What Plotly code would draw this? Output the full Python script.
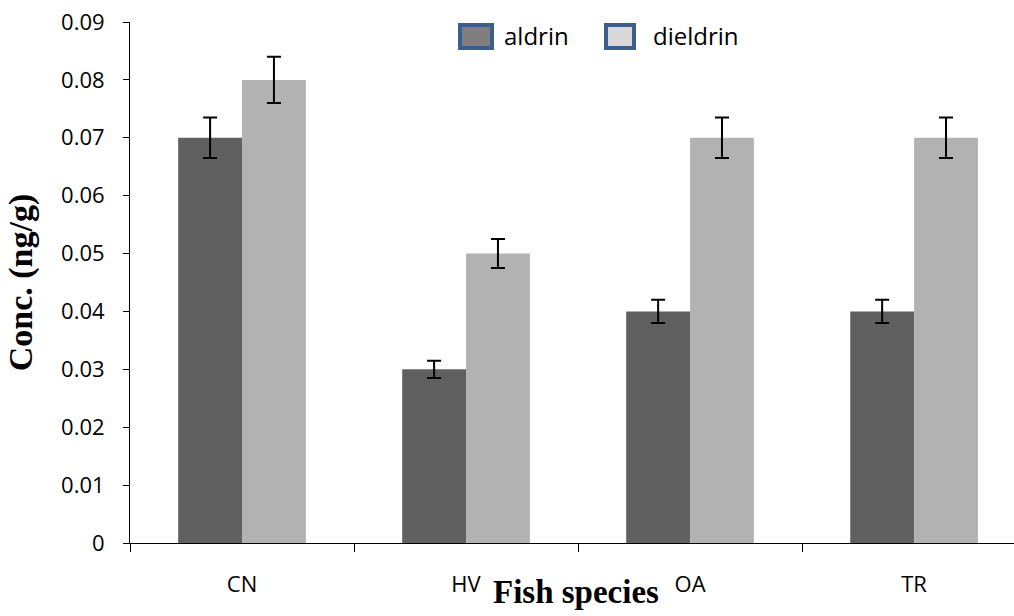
import plotly.graph_objects as go

species = ["CN", "HV", "OA", "TR"]
aldrin = [0.07, 0.03, 0.04, 0.04]
dieldrin = [0.08, 0.05, 0.07, 0.07]
aldrin_err = [0.0035, 0.0015, 0.002, 0.002]
dieldrin_err = [0.004, 0.0025, 0.0035, 0.0035]
series_names = ["aldrin", "dieldrin"]

# plot-area geometry (pixels) used to place the hand-drawn legend
L, R, T, B = 130, 1014, 22, 543
def px(x):
    return (x - L) / (R - L)
def py(y):
    return (B - y) / (B - T)

fig = go.Figure()
fig.add_trace(go.Bar(x=species, y=aldrin, name=series_names[0], marker_color="#606060",
                     marker_line_width=0,
                     error_y=dict(type="data", array=aldrin_err, color="black", thickness=2, width=7),
                     showlegend=False))
fig.add_trace(go.Bar(x=species, y=dieldrin, name=series_names[1], marker_color="#b2b2b2",
                     marker_line_width=0,
                     error_y=dict(type="data", array=dieldrin_err, color="black", thickness=2, width=7),
                     showlegend=False))

shapes = [
    dict(type="rect", xref="paper", yref="paper", x0=px(460), x1=px(492), y0=py(48), y1=py(25),
         fillcolor="#7f7f7f", line=dict(color="#3b5e8c", width=4)),
    dict(type="rect", xref="paper", yref="paper", x0=px(606), x1=px(634), y0=py(48), y1=py(25),
         fillcolor="#d9d9d9", line=dict(color="#3b5e8c", width=4)),
]
annotations = [
    dict(text=series_names[0], x=px(502), y=py(36), xref="paper", yref="paper", showarrow=False,
         xanchor="left", yanchor="middle", font=dict(family="Open Sans", size=24, color="black")),
    dict(text=series_names[1], x=px(651), y=py(36), xref="paper", yref="paper", showarrow=False,
         xanchor="left", yanchor="middle", font=dict(family="Open Sans", size=24, color="black")),
    dict(text="<b>Fish species</b>", x=px(576), y=py(592), xref="paper", yref="paper",
         showarrow=False, font=dict(family="Liberation Serif", size=33, color="black"),
         xanchor="center", yanchor="middle"),
]

fig.update_layout(
    width=1014, height=616,
    margin=dict(l=L, r=1014 - R, t=T, b=616 - B),
    paper_bgcolor="white", plot_bgcolor="white",
    barmode="group", bargap=0.43, bargroupgap=0,
    font=dict(family="Open Sans", size=22, color="black"),
    showlegend=False,
    xaxis=dict(range=[-0.5, 3.446], showline=True, linecolor="black", linewidth=1,
               ticks="outside", ticklen=8, tickcolor="black", tickson="boundaries",
               ticklabelstandoff=22, showgrid=False, zeroline=False,
               tickfont=dict(size=22)),
    yaxis=dict(range=[0, 0.09], dtick=0.01, showline=True, linecolor="black", linewidth=1,
               ticks="outside", ticklen=6, tickcolor="black", showgrid=False, zeroline=False,
               tickfont=dict(size=22), ticklabelstandoff=14,
               title=dict(text="<b>Conc. (ng/g)</b>", font=dict(family="Liberation Serif", size=34),
                          standoff=18)),
    shapes=shapes,
    annotations=annotations,
)

fig.write_html("out.html")
